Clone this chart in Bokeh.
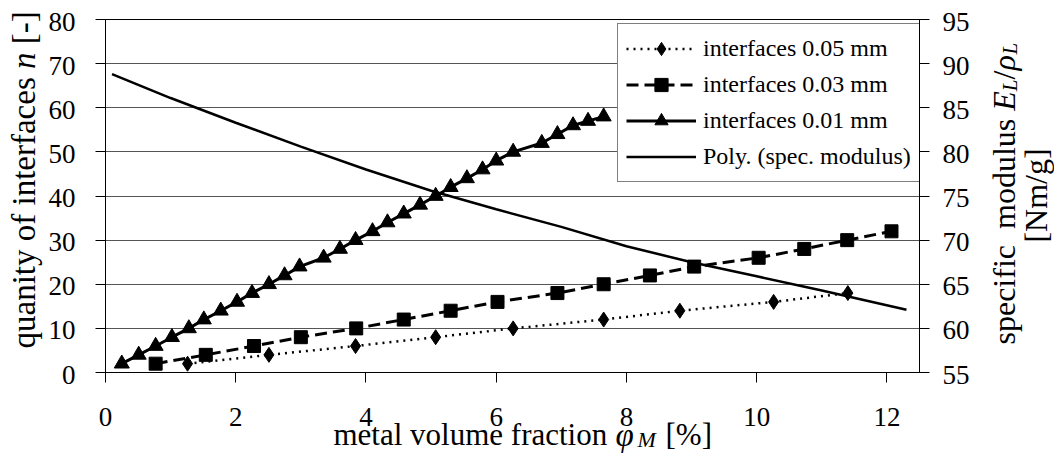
import numpy as np
from bokeh.plotting import figure
from bokeh.models import Range1d, LinearAxis, FixedTicker, Legend, LegendItem
from bokeh.core.properties import value
from bokeh.embed import file_html
from bokeh.resources import INLINE

# ---------------- data ----------------
# interfaces 0.01 mm (triangles)
phi_001 = [0.25, 0.51, 0.77, 1.02, 1.28, 1.51, 1.77, 2.02, 2.25, 2.51, 2.75, 2.98,
           3.35, 3.60, 3.84, 4.10, 4.33, 4.58, 4.83, 5.07, 5.30, 5.55, 5.79, 6.00,
           6.26, 6.70, 6.94, 7.18, 7.41, 7.65]
n_001 = [2, 4, 6, 8, 10, 12, 14, 16, 18, 20, 22, 24, 26, 28, 30, 32, 34, 36, 38,
         40, 42, 44, 46, 48, 50, 52, 54, 56, 57, 58]
# interfaces 0.03 mm (squares)
phi_003 = [0.77, 1.54, 2.28, 3.00, 3.85, 4.58, 5.30, 6.02, 6.94, 7.65, 8.36, 9.04,
           10.03, 10.73, 11.39, 12.07]
n_003 = [2, 4, 6, 8, 10, 12, 14, 16, 18, 20, 22, 24, 26, 28, 30, 32]
# interfaces 0.05 mm (diamonds)
phi_005 = [1.26, 2.51, 3.84, 5.07, 6.26, 7.65, 8.82, 10.26, 11.40]
n_005 = [2, 4, 6, 8, 10, 12, 14, 16, 18]
# Poly. (spec. modulus) trend line, right axis
phi_poly = [0.1, 1.0, 2.0, 3.0, 4.0, 5.0, 6.0, 7.0, 8.0, 9.0, 10.0, 11.0, 12.3]
mod_poly = [88.8, 86.1, 83.3, 80.6, 78.0, 75.6, 73.5, 71.5, 69.3, 67.5, 65.9, 64.3, 62.1]

x_ticks = [0, 2, 4, 6, 8, 10, 12]
left_ticks = [0, 10, 20, 30, 40, 50, 60, 70, 80]
right_ticks = [55, 60, 65, 70, 75, 80, 85, 90, 95]

legend_labels = ["interfaces 0.05 mm", "interfaces 0.03 mm", "interfaces 0.01 mm",
                 "Poly. (spec. modulus)"]

FONT = "Liberation Serif"

# ---------------- figure ----------------
FL, FB = 105, 372   # frame left / bottom in page pixels
xr = Range1d(0, 12.5)
p = figure(width=1054, height=454, x_range=xr, y_range=Range1d(0, 80),
           output_backend="svg", toolbar_location=None,
           min_border_left=FL, min_border_right=135, min_border_top=19,
           min_border_bottom=454 - FB)
p.background_fill_color = "white"
p.border_fill_color = "white"
p.outline_line_color = "black"
p.outline_line_width = 1

p.extra_y_ranges = {"mod": Range1d(55, 95)}
right_axis = LinearAxis(y_range_name="mod")
p.add_layout(right_axis, "right")

bottom_axis = p.xaxis[0]
left_axis = p.yaxis[0]
bottom_axis.ticker = FixedTicker(ticks=x_ticks)
left_axis.ticker = FixedTicker(ticks=left_ticks)
right_axis.ticker = FixedTicker(ticks=right_ticks)

for ax in (bottom_axis, left_axis, right_axis):
    # tick numbers are drawn below as serif text glyphs at the tick positions
    ax.major_label_text_color = None
    ax.major_label_text_font_size = "27px"
    ax.major_tick_out = 10
    ax.major_tick_in = 0
    ax.minor_tick_out = 0
    ax.minor_tick_in = 0
    ax.axis_line_color = "black"
    ax.major_tick_line_color = "black"

p.xgrid.visible = False
p.ygrid.ticker = FixedTicker(ticks=left_ticks)
p.ygrid.grid_line_color = "#555555"
p.ygrid.grid_line_width = 1

# ---------------- series ----------------
r1 = p.line(phi_005, n_005, line_color="black", line_width=2.5, line_dash="2 5")
s1 = p.scatter(phi_005, n_005, marker="diamond", size=15, color="black")
r2 = p.line(phi_003, n_003, line_color="black", line_width=3, line_dash="12 6")
s2 = p.scatter(phi_003, n_003, marker="square", size=13, color="black")
r3 = p.line(phi_001, n_001, line_color="black", line_width=3)
s3 = p.scatter(phi_001, n_001, marker="triangle", size=15, color="black")
r4 = p.line(phi_poly, mod_poly, y_range_name="mod", line_color="black", line_width=2.5)

legend = Legend(items=[LegendItem(label=legend_labels[0], renderers=[r1, s1]),
                       LegendItem(label=legend_labels[1], renderers=[r2, s2]),
                       LegendItem(label=legend_labels[2], renderers=[r3, s3]),
                       LegendItem(label=legend_labels[3], renderers=[r4])],
                location=(512, 190), margin=0, padding=8, spacing=3,
                glyph_width=70, glyph_height=33, label_height=33, label_standoff=7,
                label_text_font=FONT, label_text_font_size="24px",
                label_text_color="black", border_line_color="black",
                border_line_width=1, background_fill_color="white",
                background_fill_alpha=1)
p.add_layout(legend)

# ---------------- tick numbers (serif) ----------------
TICK_STYLE = dict(text_font=value(FONT), text_font_size=value("27px"),
                  text_color="black", text_baseline="alphabetic", level="overlay")
p.text(x=x_ticks, y=[0] * len(x_ticks), text=[str(t) for t in x_ticks],
       x_offset=0, y_offset=44, text_align="center", **TICK_STYLE)
p.text(x=[0] * len(left_ticks), y=left_ticks, text=[str(t) for t in left_ticks],
       x_offset=-30, y_offset=2, text_align="right", **TICK_STYLE)
p.text(x=[xr.end] * len(right_ticks), y=right_ticks, y_range_name="mod",
       text=[str(t) for t in right_ticks], x_offset=23, y_offset=2,
       text_align="left", **TICK_STYLE)


def lab(px, py, text, size, italic=False, angle=0.0, align="left"):
    """Axis-title text anchored at the axes origin, offset in page pixels."""
    p.text(x=[0], y=[0], text=[text], x_offset=px - FL, y_offset=py - FB,
           angle=angle, text_font=value(FONT), text_font_size=value(size),
           text_font_style="italic" if italic else "normal", text_color="black",
           text_align=align, text_baseline="alphabetic", level="overlay")


# x axis title: metal volume fraction φ_M [%]
XB = 434
lab(333, XB, "metal volume fraction", "31px")
lab(615, XB, "\u03c6", "33px", italic=True)
lab(637, XB + 5, "M", "22px", italic=True)
lab(665, XB, "[%]", "31px")

# left axis title: quanity of interfaces n [-]
A = np.pi / 2
LB = 23
lab(LB, 348, "quanity of interfaces", "33px", angle=A)
lab(LB, 68.5, "n", "33px", italic=True, angle=A)
lab(LB, 43.7, "[-]", "33px", angle=A)

# right axis title: specific modulus E_L/ρ_L  /  [Nm/g]
RB = 1003
lab(RB, 344, "specific", "32px", angle=A)
lab(RB, 228.5, "modulus", "32px", angle=A)
lab(RB, 110.3, "E", "32px", italic=True, angle=A)
lab(RB + 6, 90.7, "L", "21px", italic=True, angle=A)
lab(RB, 79, "/", "32px", angle=A)
lab(RB, 70.1, "\u03c1", "32px", italic=True, angle=A)
lab(RB + 6, 54.1, "L", "21px", italic=True, angle=A)
lab(RB + 32, 195, "[Nm/g]", "32px", angle=A, align="center")

open("out.html", "w").write(file_html(p, INLINE))
